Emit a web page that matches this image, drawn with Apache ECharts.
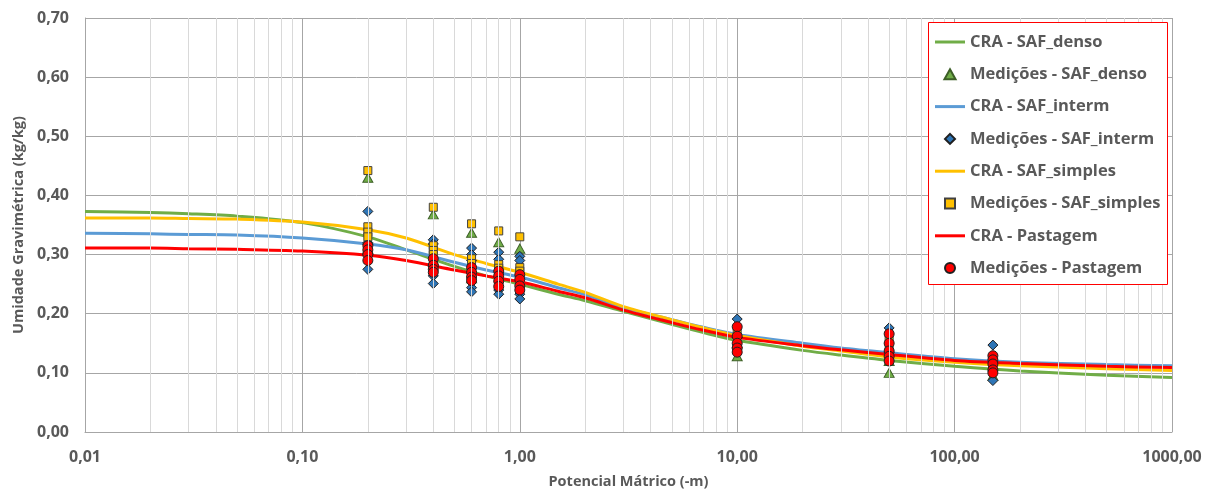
<!DOCTYPE html>
<html>
<head>
<meta charset="utf-8">
<script src="https://cdn.jsdelivr.net/npm/echarts@6/dist/echarts.min.js"></script>
<style>html,body{margin:0;padding:0;background:#fff}#c{width:1214px;height:494px}</style>
</head>
<body>
<div id="c"></div>
<script>
// ---- data ----
const curveX = [0.01, 0.02, 0.03, 0.05, 0.1, 0.2, 0.3, 0.5, 0.7, 1, 1.5, 2, 3, 5, 7, 10, 20, 30, 50, 100, 200, 500, 1000];
const densoCurve   = [0.373, 0.371, 0.369, 0.365, 0.354, 0.330, 0.308, 0.280, 0.264, 0.250, 0.233, 0.222, 0.204, 0.182, 0.168, 0.155, 0.138, 0.130, 0.121, 0.111, 0.103, 0.096, 0.092];
const intermCurve  = [0.336, 0.335, 0.334, 0.333, 0.328, 0.318, 0.308, 0.287, 0.274, 0.262, 0.244, 0.232, 0.210, 0.190, 0.177, 0.165, 0.150, 0.142, 0.134, 0.124, 0.118, 0.114, 0.112];
const simplesCurve = [0.362, 0.362, 0.361, 0.360, 0.355, 0.342, 0.328, 0.300, 0.285, 0.270, 0.250, 0.236, 0.212, 0.190, 0.176, 0.163, 0.145, 0.137, 0.127, 0.118, 0.112, 0.107, 0.104];
const pastCurve    = [0.311, 0.311, 0.310, 0.309, 0.306, 0.299, 0.290, 0.274, 0.264, 0.254, 0.238, 0.227, 0.206, 0.185, 0.172, 0.160, 0.146, 0.139, 0.131, 0.121, 0.116, 0.111, 0.109];

const measX = [0.2, 0.4, 0.6, 0.8, 1, 10, 50, 150];
const densoMeas   = [[0.430, 0.325, 0.310], [0.368, 0.290], [0.337, 0.260], [0.321], [0.310], [0.128, 0.150], [0.100, 0.120], [0.095]];
const intermMeas  = [[0.373, 0.320, 0.300, 0.275], [0.325, 0.318, 0.280, 0.264, 0.251], [0.311, 0.300, 0.290, 0.244, 0.237], [0.304, 0.292, 0.240, 0.233], [0.297, 0.290, 0.233, 0.225], [0.191, 0.160], [0.176, 0.135], [0.147, 0.087]];
const simplesMeas = [[0.442, 0.347, 0.338, 0.330], [0.380, 0.315, 0.307, 0.300], [0.352, 0.293, 0.285], [0.340, 0.283, 0.277], [0.330, 0.278, 0.272], [0.170, 0.140], [0.156, 0.140], [0.117, 0.110]];
const pastMeas    = [[0.315, 0.308, 0.300, 0.290], [0.293, 0.282, 0.275, 0.270], [0.278, 0.270, 0.262, 0.256], [0.272, 0.264, 0.255, 0.246], [0.266, 0.258, 0.247, 0.240], [0.178, 0.162, 0.150, 0.142, 0.135], [0.166, 0.150, 0.137, 0.128, 0.120], [0.129, 0.122, 0.115, 0.105, 0.100]];

const xTickLabels = ['0,01', '0,10', '1,00', '10,00', '100,00', '1000,00'];

// ---- build ----
const curve = ys => curveX.map((x, i) => [x, ys[i]]);
const meas = groups => { const out = []; groups.forEach((g, i) => g.forEach(v => out.push([measX[i], v]))); return out; };

const minorX = [];
[0.01, 0.1, 1, 10, 100].forEach(d => { for (let k = 2; k <= 9; k++) minorX.push({ xAxis: +(d * k).toPrecision(3) }); });

const FONT = 'Open Sans';
const GREY = '#595959';

const LINE_ICON = 'path://M0,0 L30,0 L30,3 L0,3 Z';
const TRI_ICON = 'path://M5,0 L10,9 L0,9 Z';
const DIA_ICON = 'path://M5,0 L10,5 L5,10 L0,5 Z';
const SQ_ICON = 'path://M0,0 L8,0 L8,8 L0,8 Z';

const lineSeries = (name, ys, color) => ({
  name, type: 'line', data: curve(ys), smooth: 0.3, symbol: 'none', z: 3,
  lineStyle: { color, width: 3 }, itemStyle: { color }, silent: true
});
const scatterSeries = (name, groups, symbol, size, color, border) => ({
  name, type: 'scatter', data: meas(groups), symbol, symbolSize: size, z: 4,
  itemStyle: { color, borderColor: border, borderWidth: 1, opacity: 1 }
});

const chart = echarts.init(document.getElementById('c'));
chart.setOption({
  animation: false,
  grid: { left: 85, right: 42, top: 18, bottom: 61 },
  xAxis: {
    type: 'log', logBase: 10, min: 0.01, max: 1000,
    name: 'Potencial Mátrico (-m)', nameLocation: 'middle', nameGap: 42,
    nameTextStyle: { color: GREY, fontFamily: FONT, fontWeight: 'bold', fontSize: 14.5 },
    axisLine: { show: true, lineStyle: { color: '#A6A6A6', width: 1 } },
    axisTick: { show: false },
    axisLabel: { color: GREY, fontFamily: FONT, fontWeight: 'bold', fontSize: 16, margin: 17,
      formatter: v => xTickLabels[Math.round(Math.log10(v)) + 2] },
    splitLine: { show: true, lineStyle: { color: '#A6A6A6', width: 1 } }
  },
  yAxis: {
    type: 'value', min: 0, max: 0.7, interval: 0.1,
    name: 'Umidade Gravimétrica (kg/kg)', nameLocation: 'middle', nameGap: 58,
    nameTextStyle: { color: GREY, fontFamily: FONT, fontWeight: 'bold', fontSize: 14.5 },
    axisLine: { show: true, lineStyle: { color: '#A6A6A6', width: 1 } },
    axisTick: { show: false },
    axisLabel: { color: GREY, fontFamily: FONT, fontWeight: 'bold', fontSize: 16, margin: 16,
      formatter: v => v.toFixed(2).replace('.', ',') },
    splitLine: { show: true, lineStyle: { color: '#A6A6A6', width: 1 } }
  },
  legend: {
    orient: 'vertical', left: 935, top: 33, padding: 0, z: 20,
    itemWidth: 30, itemHeight: 10, itemGap: 14.3,
    textStyle: { color: GREY, fontFamily: FONT, fontWeight: 'bold', fontSize: 16.5, lineHeight: 18 },
    data: [
      { name: 'CRA - SAF_denso', icon: LINE_ICON },
      { name: 'Medições - SAF_denso', icon: TRI_ICON },
      { name: 'CRA - SAF_interm', icon: LINE_ICON },
      { name: 'Medições - SAF_interm', icon: DIA_ICON },
      { name: 'CRA - SAF_simples', icon: LINE_ICON },
      { name: 'Medições - SAF_simples', icon: SQ_ICON },
      { name: 'CRA - Pastagem', icon: LINE_ICON },
      { name: 'Medições - Pastagem', icon: 'circle' }
    ]
  },
  graphic: [{
    type: 'rect', z: 15, left: 928, top: 22, silent: true,
    shape: { width: 239, height: 262 },
    style: { fill: '#ffffff', stroke: '#FF0000', lineWidth: 1 }
  }],
  series: [
    { name: 'minor', type: 'line', data: [[0.01, 0], [1000, 0]], symbol: 'none', silent: true, z: 1,
      lineStyle: { opacity: 0 },
      markLine: { silent: true, symbol: ['none', 'none'], label: { show: false },
        lineStyle: { color: '#D9D9D9', width: 1, type: 'solid' }, data: minorX, animation: false } },
    lineSeries('CRA - SAF_denso', densoCurve, '#70AD47'),
    scatterSeries('Medições - SAF_denso', densoMeas, 'triangle', [10, 9], '#70AD47', '#3D5F27'),
    lineSeries('CRA - SAF_interm', intermCurve, '#5B9BD5'),
    scatterSeries('Medições - SAF_interm', intermMeas, 'diamond', [10, 10], '#2E75B6', '#1F1F1F'),
    lineSeries('CRA - SAF_simples', simplesCurve, '#FFC000'),
    scatterSeries('Medições - SAF_simples', simplesMeas, 'rect', [8, 8], '#FFC000', '#404040'),
    lineSeries('CRA - Pastagem', pastCurve, '#FF0000'),
    scatterSeries('Medições - Pastagem', pastMeas, 'circle', 10, '#FF0000', '#1F1F1F')
  ]
});
</script>
</body>
</html>
